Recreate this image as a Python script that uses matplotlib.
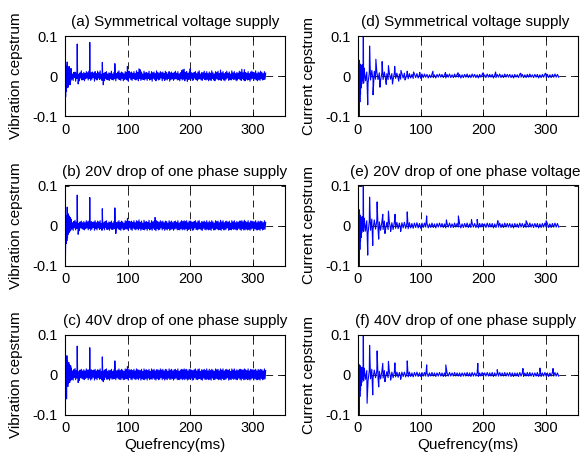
import numpy as np
import matplotlib
matplotlib.use("Agg")
import matplotlib.pyplot as plt

plt.rcParams['font.family'] = ['Liberation Sans', 'DejaVu Sans']
plt.rcParams['lines.scale_dashes'] = False

# ---------------- data (values in units of 1e-3) ----------------
titles = ["(a) Symmetrical voltage supply", "(b) 20V drop of one phase supply",
          "(c) 40V drop of one phase supply", "(d) Symmetrical voltage supply",
          "(e) 20V drop of one phase voltage", "(f) 40V drop of one phase supply"]
ylabels = ["Vibration cepstrum", "Current cepstrum"]
xlabel = "Quefrency(ms)"
xticks = [0, 100, 200, 300]
yticks = [-0.1, 0, 0.1]
yticklabels = ["-0.1", "0", "0.1"]

q_early = np.arange(0, 10, 0.5)        # sampling grid 0-9.5 ms
q_bg_vib = np.arange(10, 321, 1)       # sampling grid 10-320 ms (vibration)
q_bg_cur = np.arange(10, 321, 2)       # sampling grid 10-320 ms (current)

early_a = [-105, 30, -52, 26, -38, 22, -30, 35, -22, 18, -28, 20, -16, 24, -19, 14, -22, 16, -13, 19]
early_b = [100, -105, -52, 15, -45, 25, -38, 46, -30, 30, -22, 28, -18, 24, -16, 18, -14, 20, -12, 16]
early_c = [100, -105, 20, -40, 40, -61, 47, -25, 35, -30, 28, -22, 30, -18, 25, -20, 18, -15, 22, -14]
early_d = [0, 70, -125, 40, -120, 25, -65, 30, -45, 20, -30, 25, -20, 28, -12, 15, -10, 130, -18, 20]
early_e = [0, 53, -125, 40, -120, 30, -60, 25, -40, 18, -30, 20, -18, 22, -12, 14, -10, 130, -15, 18]
early_f = [0, 32, -125, 25, -120, 20, -55, 22, -40, 18, -28, 15, -20, 18, -12, 14, -10, 130, -16, 16]

bg_a = [12, -8, 5, -11, 9, -4, 10, -13, 7, -6, 11, -9, 4, -12, 8, -5, 13, -10, 6, -9,
        9, -12, 6, -7, 11, -5, 8, -10, 12, -6, 5, -11, 9, -8, 10, -4, 7, -13, 11, -7,
        6, -10, 12, -5, 8, -9, 13, -7, 4, -11, 10, -8, 6, -12, 9, -6, 11, -9, 5, -10,
        8, -11, 7, -6, 12, -9, 5, -10, 9, -7, 11, -12, 6, -5, 10, -8, 13, -9, 7, -11,
        10, -6, 8, -12, 5, -9, 11, -7, 9, -10, 6, -13, 12, -5, 8, -9, 10, -11, 7, -6,
        11, -8, 6, -10, 13, -7, 9, -12, 18, -6, 7, -11, 10, -8, 5, -9, 12, -10, 8, -7,
        9, -11, 7, -6, 12, -10, 5, -8, 11, -13, 8, -6, 10, -9, 6, -12, 13, -7, 9, -10,
        7, -9, 11, -5, 8, -12, 10, -7, 6, -11, 12, -8, 9, -10, 5, -6, 11, -13, 8, -9,
        10, -7, 6, -11, 9, -8, 12, -6, 7, -10, 11, -9, 5, -12, 8, -7, 14, -10, 16, -8,
        17, -12, 9, -7, 11, -14, 6, -9, 10, -8, 12, -6, 8, -11, 7, -10, 9, -5, 11, -9,
        6, -12, 10, -8, 13, -7, 5, -10, 9, -11, 8, -6, 12, -9, 7, -10, 11, -8, 6, -12,
        10, -9, 7, -11, 13, -6, 8, -10, 5, -12, 11, -7, 9, -8, 12, -10, 6, -9, 15, -11,
        8, -7, 11, -10, 6, -12, 9, -8, 12, -5, 7, -11, 10, -9, 5, -10, 13, -7, 8, -9,
        11, -8, 6, -12, 9, -10, 7, -6, 12, -9, 10, -11, 14, -7, 8, -10, 16, -12, 9, -8,
        7, -10, 11, -9, 6, -13, 10, -8, 12, -6, 9, -11, 8, -7, 13, -10, 6, -12, 10, -9,
        8, -11, 12, -7, 9, -10, 6, -9, 11, -8, 7]
bg_b = [14, -9, 7, -12, 10, -6, 13, -11, 8, -7, 12, -10, 5, -13, 9, -6, 11, -8, 7, -10,
        10, -11, 7, -8, 12, -6, 9, -11, 11, -7, 6, -12, 10, -9, 8, -5, 9, -12, 12, -8,
        7, -11, 11, -6, 9, -10, 12, -8, 5, -12, 11, -7, 7, -11, 10, -5, 12, -10, 6, -9,
        9, -12, 8, -7, 11, -10, 6, -9, 10, -8, 12, -11, 7, -6, 9, -9, 12, -10, 8, -12,
        11, -7, 9, -11, 6, -10, 12, -8, 10, -9, 7, -12, 11, -6, 9, -10, 11, -12, 8, -7,
        12, -9, 7, -11, 12, -8, 10, -11, 14, -7, 8, -12, 11, -9, 6, -10, 13, -11, 9, -8,
        10, -12, 8, -7, 13, -11, 6, -9, 12, -12, 9, -7, 11, -10, 18, -13, 12, -8, 10, -11,
        8, -10, 12, -6, 9, -11, 11, -8, 7, -12, 11, -9, 10, -11, 6, -7, 12, -12, 9, -10,
        11, -8, 7, -12, 10, -9, 11, -7, 8, -11, 12, -10, 6, -11, 9, -8, 12, -11, 10, -9,
        12, -11, 10, -8, 12, -13, 7, -10, 11, -9, 11, -7, 9, -12, 8, -11, 10, -6, 12, -10,
        7, -11, 11, -9, 12, -8, 6, -11, 10, -12, 9, -7, 11, -10, 8, -11, 12, -9, 7, -11,
        11, -10, 8, -12, 12, -7, 9, -11, 6, -11, 12, -8, 10, -9, 11, -11, 7, -10, 13, -12,
        9, -8, 12, -11, 7, -11, 10, -9, 11, -6, 8, -12, 11, -10, 6, -11, 12, -8, 9, -10,
        12, -9, 7, -11, 10, -11, 8, -7, 11, -10, 11, -12, 12, -8, 9, -11, 13, -11, 10, -9,
        8, -11, 12, -10, 7, -12, 11, -9, 11, -7, 10, -12, 9, -8, 12, -11, 7, -11, 11, -10,
        9, -12, 11, -8, 10, -11, 7, -10, 12, -9, 8]
bg_c = [16, -12, 9, -14, 12, -8, 15, -13, 10, -9, 14, -12, 7, -15, 11, -8, 13, -10, 9, -12,
        12, -13, 9, -10, 14, -8, 11, -13, 12, -9, 8, -14, 12, -11, 10, -7, 11, -14, 13, -10,
        9, -13, 12, -8, 11, -12, 14, -10, 7, -14, 13, -9, 9, -13, 12, -7, 14, -12, 8, -11,
        11, -14, 10, -9, 13, -12, 8, -11, 12, -10, 13, -13, 9, -8, 11, -11, 14, -12, 10, -13,
        13, -9, 11, -13, 8, -12, 14, -10, 12, -11, 9, -14, 13, -8, 11, -12, 12, -13, 10, -9,
        13, -11, 9, -13, 14, -10, 12, -13, 11, -9, 10, -14, 13, -11, 8, -12, 14, -13, 11, -10,
        12, -14, 10, -9, 13, -13, 8, -11, 14, -12, 11, -9, 13, -12, 9, -14, 12, -10, 12, -13,
        10, -12, 14, -8, 11, -13, 13, -10, 9, -14, 13, -11, 12, -13, 8, -9, 14, -12, 11, -12,
        13, -10, 9, -14, 12, -11, 13, -9, 10, -13, 14, -12, 8, -13, 11, -10, 13, -13, 12, -11,
        14, -13, 12, -10, 13, -14, 9, -12, 13, -11, 12, -9, 11, -14, 10, -13, 12, -8, 14, -12,
        9, -13, 13, -11, 14, -10, 8, -13, 12, -14, 11, -9, 13, -12, 10, -13, 14, -11, 9, -13,
        13, -12, 10, -14, 13, -9, 11, -13, 8, -13, 14, -10, 12, -11, 13, -13, 9, -12, 14, -14,
        11, -10, 14, -13, 9, -13, 12, -11, 13, -8, 10, -14, 13, -12, 8, -13, 14, -10, 11, -12,
        14, -11, 9, -13, 12, -13, 10, -9, 13, -12, 13, -14, 12, -10, 11, -13, 14, -13, 12, -11,
        10, -13, 14, -12, 9, -14, 13, -11, 12, -9, 12, -14, 11, -10, 13, -13, 9, -13, 13, -12,
        11, -14, 13, -10, 12, -13, 9, -12, 14, -11, 10]
bg_d = [15, -12, 10, -18, 8, -10, 14, -9, 12, -8,
        10, -9, 8, -11, 7, -9, 10, -8, 6, -9,
        7, -8, 6, -9, 8, -6, 7, -7, 5, -8,
        6, -5, 7, -6, 5, -7, 6, -5, 4, -6,
        5, -4, 6, -5, 4, -6, 5, -4, 5, -3,
        4, -5, 3, -4, 5, -4, 3, -5, 4, -3,
        5, -3, 4, -4, 3, -5, 4, -3, 5, -4,
        3, -4, 5, -3, 4, -3, 4, -5, 3, -4,
        4, -3, 5, -4, 3, -4, 5, -3, 4, -4,
        3, -5, 4, -3, 4, -4, 3, -4, 5, -3,
        4, -3, 4, -5, 3, -4, 4, -3, 5, -4,
        3, -4, 5, -3, 4, -3, 4, -4, 3, -5,
        4, -3, 3, -4, 5, -3, 4, -4, 3, -4,
        4, -3, 5, -3, 3, -4, 4, -3, 4, -5,
        3, -4, 4, -3, 5, -3, 4, -4, 3, -4,
        4, -3, 5, -3, 4, -3]
bg_e = [18, -14, 12, -20, 10, -12, 16, -10, 14, -9,
        12, -10, 9, -12, 8, -10, 11, -9, 8, -10,
        8, -9, 7, -10, 9, -7, 8, -8, 6, -9,
        7, -6, 8, -7, 6, -8, 7, -6, 5, -7,
        6, -5, 7, -6, 5, -7, 6, -5, 6, -4,
        5, -6, 4, -5, 6, -5, 4, -6, 5, -4,
        6, -4, 5, -5, 4, -6, 5, -4, 6, -5,
        4, -5, 6, -4, 5, -4, 5, -6, 4, -5,
        5, -4, 6, -5, 4, -5, 6, -4, 5, -5,
        4, -6, 5, -4, 5, -5, 4, -5, 6, -4,
        5, -4, 5, -6, 4, -5, 5, -4, 6, -5,
        4, -5, 6, -4, 5, -4, 5, -5, 4, -6,
        5, -4, 4, -5, 6, -4, 5, -5, 4, -5,
        5, -4, 6, -4, 4, -5, 5, -4, 5, -6,
        4, -5, 5, -4, 6, -4, 5, -5, 4, -5,
        5, -4, 6, -4, 5, -4]
bg_f = [14, -12, 10, -16, 9, -11, 13, -9, 11, -8,
        9, -10, 8, -11, 7, -9, 10, -7, 7, -8,
        7, -8, 6, -8, 7, -6, 6, -7, 5, -7,
        6, -5, 6, -6, 5, -6, 6, -5, 4, -6,
        5, -4, 6, -5, 4, -5, 5, -4, 5, -4,
        4, -5, 4, -4, 5, -4, 4, -5, 4, -4,
        5, -4, 4, -5, 4, -5, 4, -4, 5, -4,
        4, -4, 5, -4, 4, -4, 4, -5, 4, -4,
        4, -4, 5, -4, 4, -5, 5, -4, 4, -4,
        4, -5, 4, -4, 5, -4, 4, -4, 5, -4,
        4, -4, 5, -5, 4, -4, 4, -4, 5, -4,
        4, -4, 5, -4, 4, -4, 5, -5, 4, -5,
        4, -4, 4, -5, 5, -4, 4, -5, 4, -4,
        5, -4, 5, -4, 4, -5, 4, -4, 5, -5,
        4, -5, 4, -4, 5, -4, 4, -5, 4, -4,
        5, -4, 5, -4, 4, -4]

peak_q_a = [19.5, 21, 39.5, 59.5, 61, 79.5, 99.5, 119.5, 199.5, 282]
peak_v_a = [80, -20, 84, 34, -22, 31, 24, 16, 18, 17]
peak_q_b = [19.5, 21, 39.5, 59.5, 79.5, 81, 99.5, 143.5]
peak_v_b = [76, -22, 70, 42, 44, -20, 18, 20]
peak_q_c = [19.5, 21, 39.5, 59.5, 61, 79.5, 99.5]
peak_v_c = [71, -20, 67, 44, -18, 34, 20]
peak_q_d = [15.5, 18.5, 24, 28.5, 35, 38.5, 45, 48.5, 55, 58.5, 65, 68.5, 75, 78.5,
            88.5, 98.5, 119.5, 139.5, 159.5, 199.5, 219.5, 259.5, 299.5]
peak_v_d = [-72, 75, -47, 42, -28, 36, -21, 26, -20, 24, -13, 14, -10, 12,
            10, 9, 12, 9, 8, 8, 10, 7, 7]
peak_q_e = [15.5, 18.5, 23.5, 30.5, 33, 39.5, 43, 48.5, 52, 59, 68, 78.5, 109.5,
            141, 160, 181, 190, 223, 268, 300]
peak_v_e = [-74, 71, -50, 59, -34, 28, -20, 36, -15, 28, -15, 34, 24,
            14, 24, 15, 15, 12, 12, 12]
peak_q_f = [14.5, 18.5, 23.5, 30.5, 33, 39.5, 43, 48.5, 52, 58.8, 68, 78.5, 109.5,
            140, 191, 222, 263, 290, 311]
peak_v_f = [-72, 73, -51, 59, -31, 28, -18, 33, -14, 29, -12, 34, 24,
            24, 28, 12, 15, 16, 15]

panels = [
    (early_a, q_bg_vib, bg_a, peak_q_a, peak_v_a),
    (early_b, q_bg_vib, bg_b, peak_q_b, peak_v_b),
    (early_c, q_bg_vib, bg_c, peak_q_c, peak_v_c),
    (early_d, q_bg_cur, bg_d, peak_q_d, peak_v_d),
    (early_e, q_bg_cur, bg_e, peak_q_e, peak_v_e),
    (early_f, q_bg_cur, bg_f, peak_q_f, peak_v_f),
]


def build(early, qbg, bg, pq, pv):
    q = np.concatenate([q_early, qbg, np.asarray(pq, float)])
    v = np.concatenate([np.asarray(early, float), np.asarray(bg, float),
                        np.asarray(pv, float)]) * 1e-3
    order = np.argsort(q, kind="stable")
    return q[order], v[order]


# ---------------- layout ----------------
W, H = 581, 454
fig = plt.figure(figsize=(W / 100, H / 100), dpi=100)
col_left = [65, 358]
ax_w = 219.5
row_top = [36, 185.5, 334.5]
ax_h = 80
grid_style = dict(color="black", linestyle=(0, (5, 3.5)), linewidth=0.6, zorder=1)

for i, (early, qbg, bg, pq, pv) in enumerate(panels):
    col = i // 3
    row = i % 3
    x0 = col_left[col]
    y0 = row_top[row]
    ax = fig.add_axes([x0 / W, 1 - (y0 + ax_h) / H, ax_w / W, ax_h / H])
    q, v = build(early, qbg, bg, pq, pv)
    ax.set_xlim(0, 350)
    ax.set_ylim(-0.1, 0.1)
    # interior grid lines only (MATLAB style)
    for xt in xticks[1:]:
        ax.axvline(xt, **grid_style)
    ax.axhline(0, **grid_style)
    ax.plot(q, v, color=(0, 0, 1), lw=0.8, zorder=3)
    ax.set_xticks(xticks)
    ax.set_yticks(yticks)
    ax.set_yticklabels(yticklabels)
    ax.tick_params(direction="in", length=3, width=0.6, labelsize=10.5,
                   top=True, right=True, pad=5)
    for s in ax.spines.values():
        s.set_linewidth(0.8)
        s.set_zorder(4)
    ax.set_title(titles[i], fontsize=11, pad=7, x=0.5 if col == 0 else 0.49)
    ax.set_ylabel(ylabels[col], fontsize=11)
    ax.yaxis.set_label_coords(-0.19, 0.5)
    if row == 2:
        ax.set_xlabel(xlabel, fontsize=11, labelpad=2)

fig.savefig("out.png", dpi=100)
